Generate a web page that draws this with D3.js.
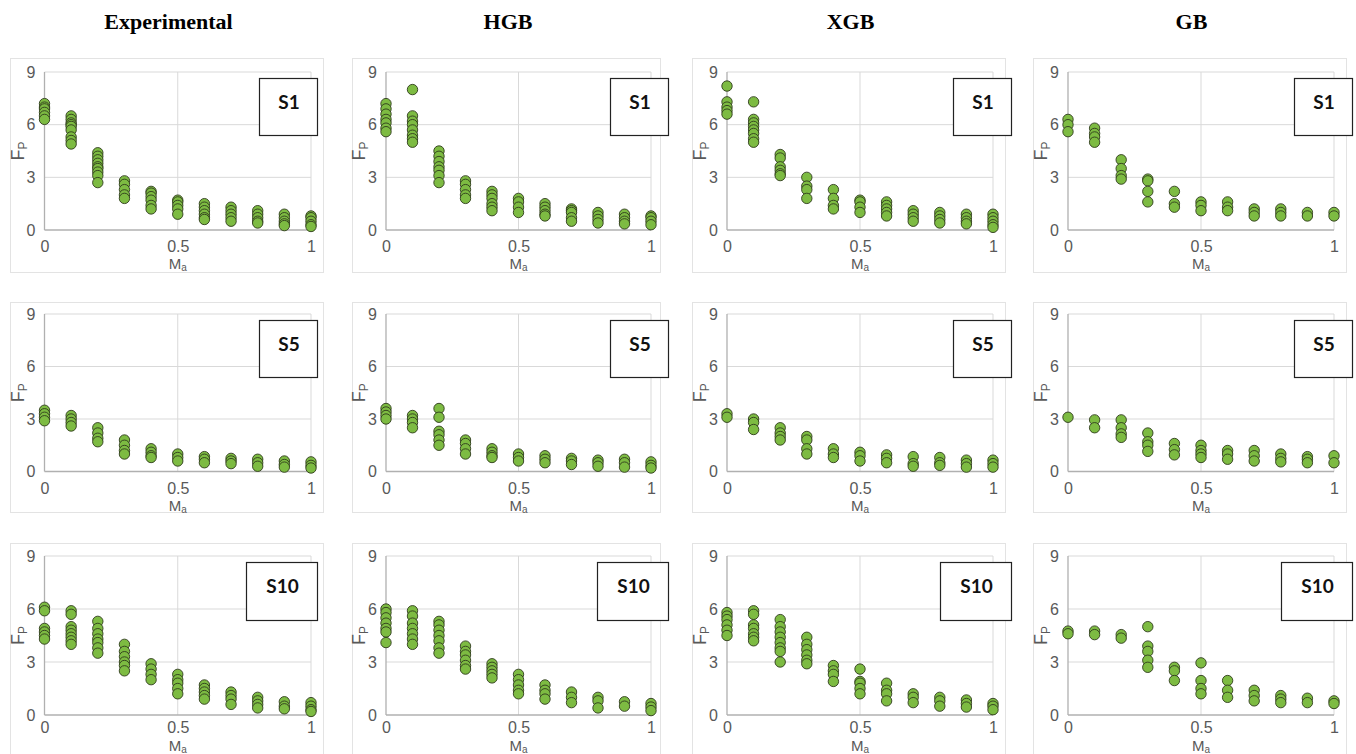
<!DOCTYPE html>
<html>
<head>
<meta charset="utf-8">
<script src="https://cdn.jsdelivr.net/npm/d3@7"></script>
<style>
  html, body { margin: 0; padding: 0; background: #fff; }
  svg { display: block; }
</style>
</head>
<body>
<svg id="chart" width="1356" height="754"></svg>
<script>
// Ma levels shared by every panel; each series below lists the Fp values observed at each level.
const maLevels = [0, 0.1, 0.2, 0.3, 0.4, 0.5, 0.6, 0.7, 0.8, 0.9, 1];
const columnTitles = ["Experimental", "HGB", "XGB", "GB"];
const seriesLabels = ["S1", "S5", "S10"];
const fpTicks = [0, 3, 6, 9];
const maTicks = [0, 0.5, 1];

// ---- S1 ----
const expS1 = [
  [7.2, 7.0, 6.9, 6.7, 6.5, 6.3],
  [6.5, 6.3, 6.1, 6.0, 5.9, 5.7, 5.3, 5.1, 4.9],
  [4.4, 4.2, 4.0, 3.8, 3.6, 3.5, 3.3, 3.1, 2.7],
  [2.8, 2.6, 2.3, 2.0, 1.8],
  [2.2, 2.1, 1.9, 1.7, 1.4, 1.2],
  [1.7, 1.6, 1.4, 1.2, 0.9],
  [1.5, 1.3, 1.1, 0.9, 0.7, 0.6],
  [1.3, 1.1, 0.9, 0.7, 0.5],
  [1.1, 0.9, 0.7, 0.5, 0.4],
  [0.9, 0.7, 0.5, 0.35, 0.25],
  [0.8, 0.7, 0.5, 0.3, 0.2]
];
const hgbS1 = [
  [7.2, 6.9, 6.6, 6.3, 6.1, 5.8, 5.6],
  [8.0, 6.5, 6.2, 6.0, 5.7, 5.4, 5.2, 5.0],
  [4.5, 4.2, 3.9, 3.6, 3.4, 3.1, 2.7],
  [2.8, 2.6, 2.3, 2.0, 1.8],
  [2.2, 2.0, 1.8, 1.5, 1.3, 1.1],
  [1.8, 1.6, 1.3, 1.0],
  [1.5, 1.3, 1.1, 0.9, 0.8],
  [1.2, 1.1, 1.0, 0.7, 0.5],
  [1.0, 0.8, 0.6, 0.4],
  [0.9, 0.7, 0.5, 0.35],
  [0.8, 0.7, 0.5, 0.3]
];
const xgbS1 = [
  [8.2, 7.3, 7.0, 6.8, 6.6],
  [7.3, 6.3, 6.1, 5.9, 5.7, 5.5, 5.2, 5.0],
  [4.3, 4.1, 3.6, 3.4, 3.2, 3.1],
  [3.0, 2.5, 2.3, 1.8],
  [2.3, 1.8, 1.4, 1.2],
  [1.7, 1.6, 1.3, 1.0],
  [1.6, 1.4, 1.2, 1.0, 0.8],
  [1.1, 0.9, 0.7, 0.5],
  [1.0, 0.8, 0.6, 0.4],
  [0.9, 0.7, 0.5, 0.35],
  [0.9, 0.7, 0.5, 0.3, 0.15]
];
const gbS1 = [
  [6.3, 6.0, 5.6],
  [5.8, 5.5, 5.3, 5.0],
  [4.0, 3.5, 3.1, 2.9],
  [2.9, 2.8, 2.2, 1.6],
  [2.2, 1.5, 1.3],
  [1.6, 1.4, 1.1],
  [1.6, 1.3, 1.1],
  [1.2, 1.0, 0.8],
  [1.2, 1.0, 0.8],
  [1.0, 0.8],
  [1.0, 0.8]
];

// ---- S5 ----
const expS5 = [
  [3.5, 3.3, 3.1, 2.9],
  [3.2, 3.0, 2.8, 2.6],
  [2.5, 2.2, 1.9, 1.7],
  [1.8, 1.5, 1.2, 1.0],
  [1.3, 1.1, 0.9, 0.8],
  [1.0, 0.8, 0.6],
  [0.85, 0.7, 0.5],
  [0.75, 0.6, 0.45],
  [0.7, 0.5, 0.3],
  [0.6, 0.4, 0.25],
  [0.55, 0.35, 0.2]
];
const hgbS5 = [
  [3.6, 3.4, 3.2, 3.0],
  [3.2, 3.0, 2.8, 2.5],
  [3.6, 3.1, 2.3, 2.1, 1.8, 1.5],
  [1.8, 1.6, 1.3, 1.0],
  [1.3, 1.1, 0.9, 0.8],
  [1.0, 0.8, 0.6],
  [0.9, 0.7, 0.5],
  [0.75, 0.6, 0.4],
  [0.65, 0.5, 0.3],
  [0.7, 0.5, 0.25],
  [0.55, 0.35, 0.2]
];
const xgbS5 = [
  [3.3, 3.1],
  [3.0, 2.8, 2.4],
  [2.5, 2.2, 2.0, 1.8],
  [2.0, 1.8, 1.3, 1.0],
  [1.3, 1.0, 0.8],
  [1.1, 0.9, 0.6],
  [0.95, 0.75, 0.5],
  [0.85, 0.45, 0.3],
  [0.8, 0.5, 0.35],
  [0.65, 0.45, 0.25],
  [0.65, 0.45, 0.25]
];
const gbS5 = [
  [3.1],
  [2.95, 2.5],
  [2.95, 2.5, 2.15, 1.95],
  [2.2, 1.7, 1.5, 1.15],
  [1.6, 1.25, 0.95],
  [1.5, 1.2, 1.0, 0.8],
  [1.2, 1.0, 0.7],
  [1.2, 0.9, 0.6],
  [1.0, 0.75, 0.55],
  [0.85, 0.7, 0.5],
  [0.9, 0.5]
];

// ---- S10 ----
const expS10 = [
  [6.1, 5.9, 4.9, 4.7, 4.5, 4.3],
  [5.9, 5.7, 5.0, 4.8, 4.6, 4.4, 4.2, 4.0],
  [5.3, 4.9, 4.6, 4.3, 4.1, 3.8, 3.5],
  [4.0, 3.6, 3.3, 3.0, 2.8, 2.5],
  [2.9, 2.6, 2.3, 2.0],
  [2.3, 2.0, 1.8, 1.5, 1.2],
  [1.7, 1.5, 1.3, 1.1, 0.9],
  [1.3, 1.1, 0.9, 0.6],
  [1.0, 0.8, 0.6, 0.4],
  [0.75, 0.5, 0.35],
  [0.7, 0.5, 0.3, 0.2]
];
const hgbS10 = [
  [6.0, 5.8, 5.5, 5.2, 4.9, 4.7, 4.1],
  [5.9, 5.6, 5.2, 4.9, 4.6, 4.3, 4.0],
  [5.3, 5.1, 4.8, 4.5, 4.2, 3.8, 3.5],
  [3.9, 3.6, 3.4, 3.1, 2.8, 2.6],
  [2.9, 2.7, 2.5, 2.3, 2.1],
  [2.3, 2.0, 1.7, 1.4, 1.2],
  [1.7, 1.4, 1.2, 0.9],
  [1.3, 1.0, 0.7],
  [1.0, 0.8, 0.4],
  [0.75, 0.5],
  [0.65, 0.45, 0.25]
];
const xgbS10 = [
  [5.8, 5.6, 5.4, 5.1, 4.8, 4.5],
  [5.9, 5.7, 5.1, 4.9, 4.6, 4.4, 4.2],
  [5.4, 5.0, 4.7, 4.4, 4.1, 3.8, 3.6, 3.0],
  [4.4, 4.0, 3.7, 3.4, 3.1, 2.9],
  [2.8, 2.5, 2.3, 1.9],
  [2.6, 1.9, 1.8, 1.5, 1.2],
  [1.8, 1.4, 1.2, 0.8],
  [1.2, 1.0, 0.7],
  [1.0, 0.8, 0.5],
  [0.85, 0.65, 0.45],
  [0.65, 0.5, 0.3]
];
const gbS10 = [
  [4.75, 4.6],
  [4.75, 4.55],
  [4.55, 4.35],
  [5.0, 3.9, 3.6, 3.1, 2.7],
  [2.7, 2.5, 1.95],
  [2.95, 1.95, 1.5, 1.2],
  [1.95, 1.4, 1.0],
  [1.4, 1.1, 0.8],
  [1.1, 0.9, 0.7],
  [0.95, 0.7],
  [0.8, 0.65]
];

// Panel grid: rows are series (S1, S5, S10), columns are sources.
const panelData = [
  [expS1, hgbS1, xgbS1, gbS1],
  [expS5, hgbS5, xgbS5, gbS5],
  [expS10, hgbS10, xgbS10, gbS10]
];

// ---- layout ----
const colAxis = [
  { x0: 44.5, x1: 311, frameL: 10, frameR: 323 },
  { x0: 386, x1: 651, frameL: 352, frameR: 660 },
  { x0: 727, x1: 993, frameL: 692, frameR: 1005 },
  { x0: 1068, x1: 1334, frameL: 1033, frameR: 1346 }
];
const rowAxis = [
  { y0: 230, y9: 72, frameT: 58, frameB: 272, boxT: 78, boxH: 57, boxW: 58, maY: 39, tickPad: 11 },
  { y0: 471.5, y9: 314, frameT: 302, frameB: 512, boxT: 320, boxH: 57, boxW: 58, maY: 39, tickPad: 11 },
  { y0: 715, y9: 556, frameT: 543, frameB: 770, boxT: 562, boxH: 58, boxW: 71, maY: 36, tickPad: 7 }
];
const boxRight = [317, 668, 1011, 1352];

const svg = d3.select("#chart");
const axisGrey = "#595959";
const gridGrey = "#d9d9d9";

// column titles
svg.selectAll("text.col-title")
  .data(columnTitles)
  .join("text")
  .attr("class", "col-title")
  .attr("x", (d, i) => (colAxis[i].frameL + colAxis[i].frameR) / 2 + 2)
  .attr("y", 29)
  .attr("text-anchor", "middle")
  .style("font-family", "'Liberation Serif', 'Times New Roman', serif")
  .style("font-weight", "bold")
  .style("font-size", "22px")
  .style("fill", "#000")
  .text(d => d);

panelData.forEach((row, r) => {
  row.forEach((series, c) => {
    const ca = colAxis[c], ra = rowAxis[r];
    const x = d3.scaleLinear().domain([0, 1]).range([ca.x0, ca.x1]);
    const y = d3.scaleLinear().domain([0, 9]).range([ra.y0, ra.y9]);
    const g = svg.append("g");

    // chart-area frame
    g.append("rect")
      .attr("x", ca.frameL + 0.5).attr("y", ra.frameT + 0.5)
      .attr("width", ca.frameR - ca.frameL).attr("height", ra.frameB - ra.frameT)
      .attr("fill", "none").attr("stroke", "#e3e3e3").attr("stroke-width", 1);

    // gridlines
    g.selectAll("line.hgrid")
      .data(fpTicks.filter(t => t > 0))
      .join("line")
      .attr("x1", x(0)).attr("x2", x(1))
      .attr("y1", d => y(d)).attr("y2", d => y(d))
      .attr("stroke", gridGrey).attr("stroke-width", 1);
    g.selectAll("line.vgrid")
      .data(maTicks.filter(t => t > 0))
      .join("line")
      .attr("x1", d => x(d)).attr("x2", d => x(d))
      .attr("y1", y(0)).attr("y2", y(9))
      .attr("stroke", gridGrey).attr("stroke-width", 1);

    // axes
    const yAxis = d3.axisLeft(y).tickValues(fpTicks).tickSize(0).tickPadding(9).tickFormat(d3.format("d"));
    const xAxis = d3.axisBottom(x).tickValues(maTicks).tickSize(0).tickPadding(ra.tickPad).tickFormat(d => d === 0.5 ? "0.5" : d3.format("d")(d));
    const ya = g.append("g").attr("transform", `translate(${x(0)},0)`).call(yAxis);
    const xa = g.append("g").attr("transform", `translate(0,${y(0)})`).call(xAxis);
    [ya, xa].forEach(a => {
      a.select(".domain").attr("stroke", "#b0b0b0").attr("stroke-width", 1.3);
      a.selectAll("text")
        .style("font-family", "'Liberation Sans', Arial, sans-serif")
        .style("font-size", "16px")
        .style("fill", axisGrey);
    });
    ya.select(".domain").attr("d", `M0,${y(0)}V${y(9)}`);
    xa.select(".domain").attr("d", `M${x(0)},0H${x(1)}`);

    // axis titles: Fp (rotated) and Ma
    const fp = g.append("text")
      .attr("transform", `translate(${x(0) - 21},${y(4.5)}) rotate(-90)`)
      .attr("text-anchor", "middle")
      .style("font-family", "'Liberation Sans', Arial, sans-serif")
      .style("font-size", "18px")
      .style("fill", axisGrey);
    fp.append("tspan").text("F");
    fp.append("tspan").attr("dy", 3).style("font-size", "12px").text("P");

    const ma = g.append("text")
      .attr("x", x(0.5)).attr("y", y(0) + ra.maY)
      .attr("text-anchor", "middle")
      .style("font-family", "'Liberation Sans', Arial, sans-serif")
      .style("font-size", "15px")
      .style("fill", axisGrey);
    ma.append("tspan").text("M");
    ma.append("tspan").attr("dy", 2).style("font-size", "10px").text("a");

    // data points
    const pts = series.flatMap((vals, i) => vals.map(v => ({ ma: maLevels[i], fp: v })));
    g.selectAll("circle")
      .data(pts)
      .join("circle")
      .attr("cx", d => x(d.ma))
      .attr("cy", d => y(d.fp))
      .attr("r", 5.2)
      .attr("fill", "#7dbb42")
      .attr("stroke", "#2f3b1c")
      .attr("stroke-width", 0.9);

    // series label box
    const bw = ra.boxW, bh = ra.boxH, bx = boxRight[c] - bw, by = ra.boxT;
    g.append("rect")
      .attr("x", bx + 0.5).attr("y", by + 0.5)
      .attr("width", bw).attr("height", bh)
      .attr("fill", "#fff").attr("stroke", "#222").attr("stroke-width", 1.2);
    g.append("text")
      .attr("x", bx + bw / 2 + 1).attr("y", by + 31)
      .attr("text-anchor", "middle")
      .style("font-family", "Lato, 'Open Sans', sans-serif")
      .style("font-weight", "bold")
      .style("font-size", "19px")
      .style("fill", "#111")
      .text(seriesLabels[r]);
  });
});
</script>
</body>
</html>
